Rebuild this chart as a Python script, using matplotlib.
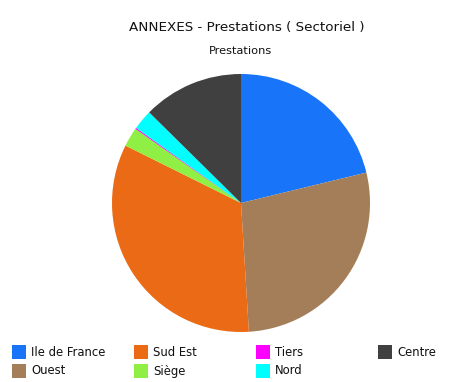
import matplotlib
matplotlib.use('Agg')
import matplotlib.pyplot as plt
from matplotlib.patches import Rectangle

# Slice data, clockwise from the top
labels = ['Ile de France', 'Ouest', 'Sud Est', 'Siège', 'Tiers', 'Nord', 'Centre']
values = [21.2, 27.8, 33.3, 2.4, 0.15, 2.5, 12.6]
colors = ['#1874f8', '#a47e58', '#ea6a16', '#8fef44', '#ff00ff', '#00ffff', '#404040']

W, H = 465, 382
fig = plt.figure(figsize=(W / 100, H / 100), dpi=100)

# pie centre at (241, 203) px, radius 129 px
cx, cy, r = 241, 203, 129
ax = fig.add_axes([(cx - r) / W, (H - cy - r) / H, 2 * r / W, 2 * r / H])
ax.pie(values, colors=colors, startangle=90, counterclock=False,
       wedgeprops=dict(linewidth=0))
ax.set_xlim(-1, 1)
ax.set_ylim(-1, 1)
ax.axis('off')

fig.text(247 / W, 1 - 27 / H, 'ANNEXES - Prestations ( Sectoriel )',
         ha='center', va='center', fontsize=9.7, color='#111111')
fig.text(240 / W, 1 - 51 / H, 'Prestations',
         ha='center', va='center', fontsize=8.2, color='#111111')

# legend laid out in 4 columns, filled column by column
ncol, nrow = 4, 2
for i, (lab, col) in enumerate(zip(labels, colors)):
    c, rw = divmod(i, nrow)
    x0 = 12 + c * 122
    y0 = 352 + rw * 19
    fig.patches.append(Rectangle((x0 / W, 1 - (y0 + 7) / H), 14 / W, 14 / H,
                                 transform=fig.transFigure, facecolor=col,
                                 edgecolor='none'))
    fig.text((x0 + 19) / W, 1 - y0 / H, lab, ha='left', va='center',
             fontsize=8.4, color='#111111')

fig.savefig('out.png', dpi=100)
